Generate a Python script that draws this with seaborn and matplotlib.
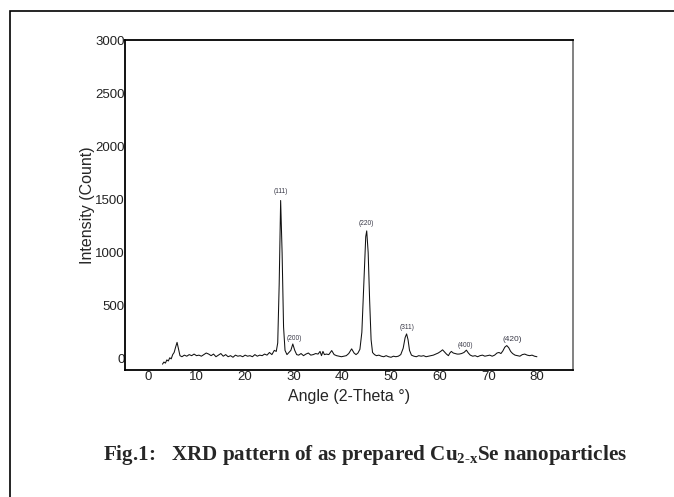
import pandas as pd
import seaborn as sns
import matplotlib.pyplot as plt
from matplotlib.patches import Rectangle

# XRD pattern (2-theta in degrees, intensity in counts)
angle = [3.0, 3.3, 3.6, 3.9, 4.2, 4.5, 4.8, 5.1, 5.4, 5.7, 6.0, 6.3, 6.6, 7.0, 7.5,
         8.0, 8.5, 9.0, 9.5, 10.0, 10.5, 11.0, 11.5, 12.0, 12.5, 13.0, 13.5, 14.0, 14.5,
         15.0, 15.5, 16.0, 16.5, 17.0, 17.5, 18.0, 18.5, 19.0, 19.5, 20.0, 20.5, 21.0,
         21.5, 22.0, 22.5, 23.0, 23.5, 24.0, 24.5, 25.0, 25.5, 26.0, 26.4, 26.7, 27.0,
         27.3, 27.6, 27.9, 28.2, 28.6, 29.0, 29.4, 29.8, 30.2, 30.6, 31.0, 31.5, 32.0,
         32.5, 33.0, 33.5, 34.0, 34.5, 35.0, 35.4, 35.7, 36.0, 36.3, 36.7, 37.2, 37.8,
         38.3, 38.8, 39.3, 39.8, 40.3, 40.8, 41.3, 41.9, 42.4, 42.8, 43.2, 43.6, 44.0,
         44.4, 44.8, 45.0, 45.3, 45.6, 45.9, 46.2, 46.6, 47.0, 47.5, 48.0, 48.5, 49.0,
         49.5, 50.0, 50.5, 51.0, 51.5, 52.0, 52.5, 52.9, 53.2, 53.5, 53.8, 54.2, 54.7,
         55.2, 55.7, 56.2, 56.7, 57.2, 57.7, 58.2, 58.7, 59.2, 59.7, 60.2, 60.6, 61.0,
         61.4, 61.8, 62.1, 62.4, 62.8, 63.2, 63.6, 64.0, 64.5, 65.0, 65.5, 65.9, 66.3,
         66.8, 67.3, 67.8, 68.3, 68.8, 69.3, 69.8, 70.3, 70.8, 71.3, 71.8, 72.2, 72.6,
         73.0, 73.4, 73.8, 74.2, 74.6, 75.0, 75.5, 76.0, 76.5, 77.0, 77.5, 78.0, 78.5,
         79.0, 79.5, 80.0]
intensity = [-50, -30, -40, -10, -20, 10, 0, 40, 60, 110, 155, 90, 30, 20, 35,
             25, 40, 30, 45, 30, 35, 25, 40, 55, 45, 30, 45, 20, 35,
             50, 25, 40, 20, 30, 15, 35, 25, 30, 20, 35, 25, 30,
             20, 40, 25, 35, 30, 45, 35, 60, 40, 80, 70, 150, 700,
             1490, 1000, 300, 80, 40, 60, 80, 140, 80, 40, 35, 50, 30,
             45, 55, 35, 40, 50, 45, 70, 30, 70, 40, 45, 40, 78,
             40, 30, 25, 20, 25, 30, 50, 94, 55, 40, 55, 90, 250,
             700, 1150, 1204, 1000, 550, 180, 60, 40, 30, 35, 25, 20, 30,
             20, 15, 25, 20, 25, 40, 100, 200, 235, 180, 80, 35, 25,
             20, 30, 25, 30, 20, 25, 30, 35, 45, 55, 70, 85, 65,
             45, 30, 55, 70, 55, 50, 45, 45, 50, 60, 82, 55, 35,
             25, 30, 20, 30, 35, 25, 30, 35, 25, 35, 55, 60, 50,
             75, 110, 125, 105, 70, 50, 35, 30, 25, 40, 45, 35, 30,
             35, 25, 20]

# Miller index labels and where they sit
hkl_labels = ['(111)', '(200)', '(220)', '(311)', '(400)', '(420)']
hkl_angle = [27.4, 30.2, 45.0, 53.2, 65.2, 74.9]
hkl_intensity = [1575, 190, 1270, 292, 130, 180]

df = pd.DataFrame({'Angle': angle, 'Intensity': intensity})

sns.set_style('white')
plt.rcParams['font.family'] = ['Liberation Sans', 'DejaVu Sans']
plt.rcParams['mathtext.fontset'] = 'custom'
plt.rcParams['mathtext.rm'] = 'Liberation Serif:bold'
plt.rcParams['mathtext.it'] = 'Liberation Serif:bold'
plt.rcParams['mathtext.bf'] = 'Liberation Serif:bold'

fig = plt.figure(figsize=(6.74, 4.97), dpi=100)
ax = fig.add_axes([0.1855, 0.2555, 0.6645, 0.664])

sns.lineplot(data=df, x='Angle', y='Intensity', color='#111111', linewidth=0.75, ax=ax)

for lab, a, i in zip(hkl_labels, hkl_angle, hkl_intensity):
    size = 6 if lab == '(420)' else 4.8
    ax.text(a, i, lab, fontsize=size, color='#3a3a48', ha='center', va='center')

ax.set_xlim(-4.7, 87.4)
ax.set_ylim(-105, 3000)
ax.set_xticks(range(0, 81, 10))
ax.set_yticks(range(0, 3001, 500))
ax.tick_params(length=0, labelsize=9.5, colors='#222222')
ax.tick_params(axis='y', pad=0)
ax.tick_params(axis='x', pad=1)
ax.set_xlabel('Angle (2-Theta °)', fontsize=11.5, labelpad=4)
ax.set_ylabel('Intensity (Count)', fontsize=11.5, labelpad=0)

for side in ['left', 'top', 'bottom']:
    ax.spines[side].set_color('black')
    ax.spines[side].set_linewidth(1.3)
ax.spines['right'].set_color('#777777')
ax.spines['right'].set_linewidth(1.3)

# page frame around the figure
fig.patches.append(Rectangle((10 / 674, -0.1), 2, 1 - 11 / 497 + 0.1,
                             transform=fig.transFigure, fill=False,
                             edgecolor='black', linewidth=1.2))

fig.text(365 / 674, 1 - 455 / 497,
         r'Fig.1:   XRD pattern of as prepared Cu$_{\mathrm{2\text{-}x}}$Se nanoparticles',
         family='Liberation Serif', weight='bold', fontsize=15.2,
         ha='center', va='center')

fig.savefig('out.png', dpi=100)
